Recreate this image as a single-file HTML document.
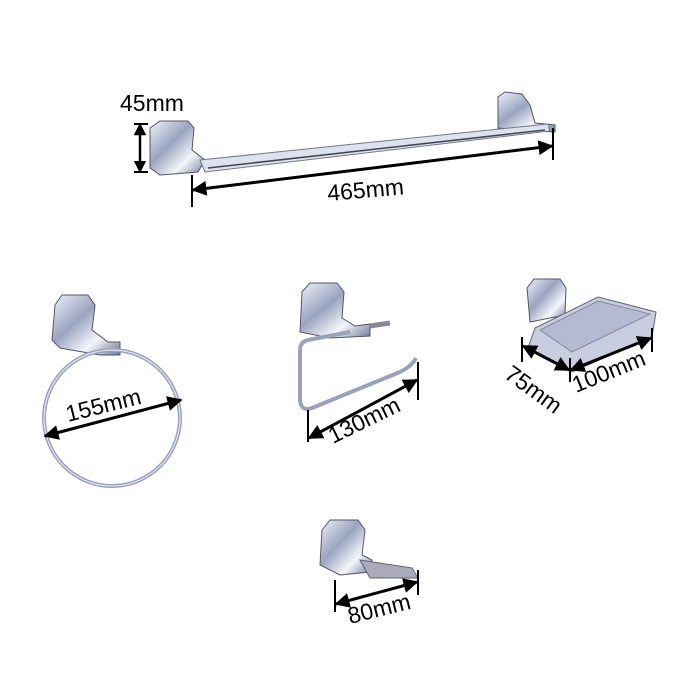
<!DOCTYPE html>
<html><head><style>html,body{margin:0;padding:0;background:#fff;}svg{display:block}</style></head>
<body>
<svg width="700" height="700" viewBox="0 0 700 700" xmlns="http://www.w3.org/2000/svg" font-family="Liberation Sans, sans-serif">
<defs>
<linearGradient id="cr" x1="0" y1="0" x2="1" y2="1">
<stop offset="0" stop-color="#eef2fa"/><stop offset="0.4" stop-color="#9aa4c0"/><stop offset="0.7" stop-color="#f4f6fb"/><stop offset="1" stop-color="#6e7898"/></linearGradient>
<marker id="ar" viewBox="0 0 10 10" refX="9" refY="5" markerWidth="5" markerHeight="5" orient="auto-start-reverse"><path d="M0,0L10,5L0,10z" fill="#000"/></marker>
</defs>
<g>
<path d="M150,128 L160,121 L188,121 L194,128 L192,150 L205,160 L198,172 L160,175 L150,168 Z" fill="url(#cr)" stroke="#556" stroke-width="1"/>
<path d="M498,97 L505,92 L522,94 L530,105 L535,123 L555,125 L555,132 L520,130 L498,128 Z" fill="url(#cr)" stroke="#556" stroke-width="1"/>
<path d="M200,160 L548,124 L550,131 L205,172 Z" fill="#dde2ee" stroke="#778" stroke-width="1"/>
<line x1="208" y1="168" x2="545" y2="130" stroke="#445" stroke-width="1.5"/>
<line x1="140" y1="124" x2="140" y2="172" stroke="#000" stroke-width="2.5" marker-start="url(#ar)" marker-end="url(#ar)"/>
<line x1="134" y1="124" x2="148" y2="124" stroke="#000" stroke-width="2"/>
<line x1="134" y1="172" x2="148" y2="172" stroke="#000" stroke-width="2"/>
<text x="120" y="111" font-size="23">45mm</text>
<line x1="192" y1="175" x2="192" y2="207" stroke="#000" stroke-width="2"/>
<line x1="553" y1="128" x2="553" y2="160" stroke="#000" stroke-width="2"/>
<line x1="193" y1="190" x2="552" y2="146" stroke="#000" stroke-width="3" marker-start="url(#ar)" marker-end="url(#ar)"/>
<text x="328" y="201" font-size="23" transform="rotate(-5 328 201)">465mm</text>
</g>
<g>
<path d="M55,305 L62,295 L88,295 L95,305 L92,330 L108,342 L120,342 L120,355 L100,355 L60,348 L52,340 Z" fill="url(#cr)" stroke="#556"/>
<circle cx="112" cy="418" r="68" fill="none" stroke="#9aa2b8" stroke-width="4"/>
<circle cx="112" cy="418" r="68" fill="none" stroke="#eef" stroke-width="1"/>
<line x1="45" y1="436" x2="181" y2="400" stroke="#000" stroke-width="3" marker-start="url(#ar)" marker-end="url(#ar)"/>
<text x="68" y="422" font-size="23" transform="rotate(-14 68 422)">155mm</text>
</g>
<g>
<path d="M302,292 L310,283 L337,283 L344,292 L342,318 L355,326 L370,324 L370,336 L330,338 L300,332 Z" fill="url(#cr)" stroke="#556"/>
<line x1="370" y1="326" x2="390" y2="323" stroke="#889" stroke-width="5"/>
<path d="M350,332 L308,340 Q300,342 300,350 L300,400 Q301,412 312,408 L400,372 Q412,366 416,358" fill="none" stroke="#9aa2b8" stroke-width="4"/>
<line x1="308" y1="410" x2="308" y2="442" stroke="#000" stroke-width="2"/>
<line x1="418" y1="362" x2="418" y2="400" stroke="#000" stroke-width="2"/>
<line x1="309" y1="438" x2="417" y2="380" stroke="#000" stroke-width="3" marker-start="url(#ar)" marker-end="url(#ar)"/>
<text x="333" y="444" font-size="23" transform="rotate(-26 333 444)">130mm</text>
</g>
<g>
<path d="M527,288 L534,279 L560,279 L566,288 L565,315 L530,322 Z" fill="url(#cr)" stroke="#556"/>
<path d="M535,328 L598,297 L656,312 L652,337 L572,372 L528,348 Z" fill="#c8cee0" stroke="#667"/>
<path d="M540,330 L598,301 L650,314 L572,352 Z" fill="#b3bad2" stroke="#889"/>
<line x1="522" y1="337" x2="522" y2="362" stroke="#000" stroke-width="2"/>
<line x1="570" y1="358" x2="570" y2="382" stroke="#000" stroke-width="2"/>
<line x1="652" y1="328" x2="652" y2="352" stroke="#000" stroke-width="2"/>
<line x1="523" y1="346" x2="569" y2="370" stroke="#000" stroke-width="3" marker-start="url(#ar)" marker-end="url(#ar)"/>
<line x1="571" y1="370" x2="651" y2="338" stroke="#000" stroke-width="3" marker-start="url(#ar)" marker-end="url(#ar)"/>
<text x="503" y="377" font-size="23" transform="rotate(36 503 377)">75mm</text>
<text x="576" y="393" font-size="23" transform="rotate(-22 576 393)">100mm</text>
</g>
<g>
<path d="M322,530 L330,520 L358,520 L365,530 L362,555 L372,560 L370,572 L340,575 L320,565 Z" fill="url(#cr)" stroke="#556"/>
<path d="M360,560 L412,568 L418,578 L370,578 Z" fill="#aab" stroke="#667"/>
<line x1="335" y1="580" x2="335" y2="612" stroke="#000" stroke-width="2"/>
<line x1="418" y1="570" x2="418" y2="595" stroke="#000" stroke-width="2"/>
<line x1="336" y1="604" x2="417" y2="582" stroke="#000" stroke-width="3" marker-start="url(#ar)" marker-end="url(#ar)"/>
<text x="350" y="624" font-size="23" transform="rotate(-14 350 624)">80mm</text>
</g>
</svg>
</body></html>
